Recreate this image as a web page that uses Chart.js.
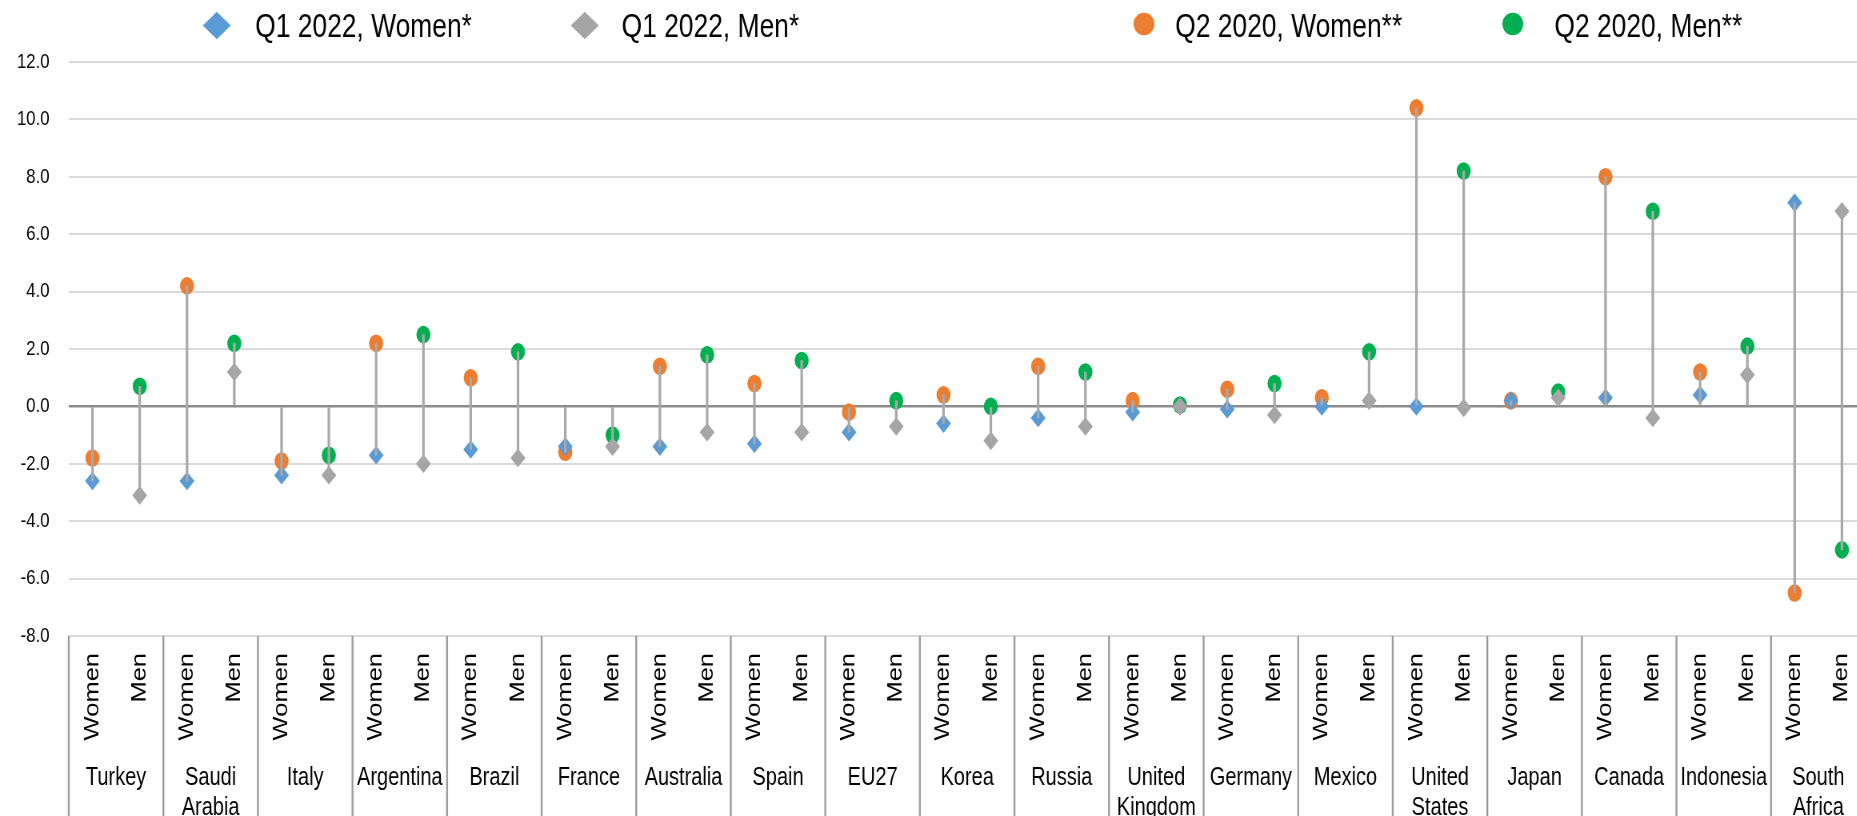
<!DOCTYPE html>
<html>
<head>
<meta charset="utf-8">
<script src="https://cdn.jsdelivr.net/npm/chart.js@4.4.1/dist/chart.umd.min.js"></script>
<style>
  html, body { margin: 0; padding: 0; overflow: hidden; background: #fff; width: 1857px; height: 816px; }
  /* the chart is laid out wide and then condensed horizontally */
  #wrap { position: absolute; left: 0; top: 0; width: 2332px; height: 816px; transform: scaleX(0.8); transform-origin: 0 0; }
  canvas { display: block; }
</style>
</head>
<body>
<div id="wrap"><canvas id="chart" width="2332" height="816"></canvas></div>
<script>
// Change in employment rate, percentage points
const countries = ['Turkey', 'Saudi Arabia', 'Italy', 'Argentina', 'Brazil', 'France', 'Australia',
  'Spain', 'EU27', 'Korea', 'Russia', 'United Kingdom', 'Germany', 'Mexico', 'United States',
  'Japan', 'Canada', 'Indonesia', 'South Africa'];
const sexes = ['Women', 'Men'];

const q1Women = [-2.6, -2.6, -2.4, -1.7, -1.5, -1.4, -1.4, -1.3, -0.9, -0.6, -0.4, -0.2, -0.1, 0.0, 0.0, 0.2, 0.3, 0.4, 7.1];
const q1Men   = [-3.1, 1.2, -2.4, -2.0, -1.8, -1.4, -0.9, -0.9, -0.7, -1.2, -0.7, 0.0, -0.3, 0.2, -0.05, 0.3, -0.4, 1.1, 6.8];
const q2Women = [-1.8, 4.2, -1.9, 2.2, 1.0, -1.6, 1.4, 0.8, -0.2, 0.4, 1.4, 0.2, 0.6, 0.3, 10.4, 0.2, 8.0, 1.2, -6.5];
const q2Men   = [0.7, 2.2, -1.7, 2.5, 1.9, -1.0, 1.8, 1.6, 0.2, 0.0, 1.2, 0.05, 0.8, 1.9, 8.2, 0.5, 6.8, 2.1, -5.0];

const yTicks = { min: -8, max: 12, step: 2 };

// one slot per country and sex: Women first, then Men
const catLabels = countries.flatMap(() => sexes);
const womenSlot = arr => countries.flatMap((_, i) => [arr[i], null]);
const menSlot = arr => countries.flatMap((_, i) => [null, arr[i]]);
const span = (...v) => [Math.min(0, ...v), Math.max(0, ...v)];
const stems = countries.flatMap((_, i) => [span(q1Women[i], q2Women[i]), span(q1Men[i], q2Men[i])]);
const countryLines = countries.map(c => c.split(' '));

const FONT = "'Liberation Sans', Arial, Helvetica, sans-serif";
Chart.defaults.font.family = FONT;
Chart.defaults.color = '#000';

// vertical dividers between country groups, below the plot area
const groupLines = {
  id: 'groupLines',
  afterDraw(chart, args, opts) {
    const xs = chart.scales.x2;
    const ctx = chart.ctx;
    ctx.save();
    ctx.strokeStyle = opts.color;
    ctx.lineWidth = opts.width;
    for (let i = 0; i <= countries.length; i++) {
      const px = xs.getPixelForValue(i - 0.5);
      ctx.beginPath();
      ctx.moveTo(px, chart.chartArea.bottom);
      ctx.lineTo(px, chart.height);
      ctx.stroke();
    }
    ctx.restore();
  }
};

// legend row across the top, one entry per marker series
const topLegend = {
  id: 'topLegend',
  afterDraw(chart, args, opts) {
    const ctx = chart.ctx;
    ctx.save();
    ctx.font = opts.fontSize + 'px ' + FONT;
    ctx.textAlign = 'left';
    ctx.textBaseline = 'alphabetic';
    opts.items.forEach(it => {
      const ds = chart.data.datasets[it.dataset];
      ctx.fillStyle = ds.pointBackgroundColor;
      ctx.beginPath();
      if (ds.pointStyle === 'rectRot') {
        ctx.moveTo(it.mx - it.rx, it.my);
        ctx.lineTo(it.mx, it.my - it.ry);
        ctx.lineTo(it.mx + it.rx, it.my);
        ctx.lineTo(it.mx, it.my + it.ry);
        ctx.closePath();
      } else {
        ctx.ellipse(it.mx, it.my, it.rx, it.ry, 0, 0, Math.PI * 2);
      }
      ctx.fill();
      ctx.fillStyle = '#000';
      ctx.fillText(ds.label, it.tx, opts.baseline);
    });
    ctx.restore();
  }
};

const markerSet = (label, data, color, style, radius, order) => ({
  type: 'line', label, data, order,
  showLine: false,
  pointStyle: style,
  pointRadius: radius,
  pointHoverRadius: radius,
  pointBackgroundColor: color,
  pointBorderColor: color,
  pointBorderWidth: 0
});

// the plot runs right up to the canvas edge, so drop the label overhang padding
const noSidePadding = s => { s.paddingLeft = 0; s.paddingRight = 0; };

new Chart(document.getElementById('chart'), {
  type: 'bar',
  data: {
    labels: catLabels,
    datasets: [
      { type: 'bar', label: 'range', data: stems, backgroundColor: '#A9A9A9', barThickness: 2.6, borderWidth: 0, order: 0 },
      markerSet('Q1 2022, Women*', womenSlot(q1Women), '#5B9BD5', 'rectRot', 9.3, 1),
      markerSet('Q1 2022, Men*', menSlot(q1Men), '#A5A5A5', 'rectRot', 9.3, 2),
      markerSet('Q2 2020, Women**', womenSlot(q2Women), '#ED7D31', 'circle', 8.8, 3),
      markerSet('Q2 2020, Men**', menSlot(q2Men), '#00B050', 'circle', 8.8, 4)
    ]
  },
  options: {
    responsive: false,
    animation: false,
    events: [],
    devicePixelRatio: 1,
    layout: { autoPadding: false, padding: { top: 62, left: 0, right: 0, bottom: 0 } },
    plugins: {
      legend: { display: false },
      tooltip: { enabled: false },
      groupLines: { color: '#9C9C9C', width: 2.4 },
      topLegend: {
        fontSize: 33,
        baseline: 36.7,
        items: [
          { dataset: 1, mx: 271, my: 25.5, rx: 17.5, ry: 13.8, tx: 319 },
          { dataset: 2, mx: 731, my: 25.5, rx: 17.5, ry: 13.8, tx: 777 },
          { dataset: 3, mx: 1430, my: 24, rx: 13, ry: 11.2, tx: 1469 },
          { dataset: 4, mx: 1891, my: 24, rx: 13, ry: 11.2, tx: 1943 }
        ]
      }
    },
    scales: {
      x: {
        type: 'category',
        offset: true,
        weight: 0,
        grid: { display: false, drawTicks: false },
        border: { display: false },
        ticks: { autoSkip: false, minRotation: 90, maxRotation: 90, padding: 17, color: '#000', font: { size: 25.5 } },
        afterFit(s) { s.height = 106; noSidePadding(s); }
      },
      x2: {
        type: 'category',
        labels: countryLines,
        position: 'bottom',
        offset: true,
        weight: 1,
        grid: { display: false, drawTicks: false },
        border: { display: false },
        ticks: { autoSkip: false, maxRotation: 0, padding: 21, color: '#000', font: { size: 25 } },
        afterFit(s) { s.height = 74; noSidePadding(s); }
      },
      y: {
        min: yTicks.min,
        max: yTicks.max,
        border: { display: false },
        grid: {
          drawTicks: false,
          color: c => (c.tick && c.tick.value === 0) ? '#8C8C8C' : '#DADADA',
          lineWidth: c => (c.tick && c.tick.value === 0) ? 2.4 : 2
        },
        ticks: {
          stepSize: yTicks.step,
          padding: 24,
          color: '#000',
          font: { size: 21 },
          callback: v => Number(v).toFixed(1)
        },
        afterFit(s) { s.width = 86; }
      }
    }
  },
  plugins: [groupLines, topLegend]
});
</script>
</body>
</html>
